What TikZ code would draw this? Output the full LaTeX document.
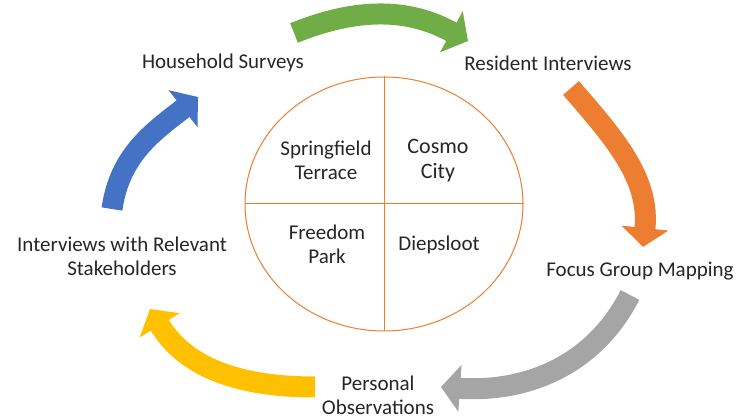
\documentclass[tikz,border=0pt]{standalone}
\usepackage{fontspec}
\setmainfont{Carlito}
\usetikzlibrary{arrows.meta,shapes.geometric}

\definecolor{cycgreen}{RGB}{112,173,71}
\definecolor{cycorange}{RGB}{237,125,49}
\definecolor{cycgray}{RGB}{165,165,165}
\definecolor{cycyellow}{RGB}{255,192,0}
\definecolor{cycblue}{RGB}{68,114,196}

\begin{document}
\begin{tikzpicture}[x=1pt, y=1pt, every text node part/.style={align=center},
    lbl/.style={font=\fontsize{21}{24}\selectfont, text=black!85, inner sep=0pt},
    cyc/.style={line width=21pt, -{Triangle[width=46pt, length=19pt]}}]
    \useasboundingbox (0,0) rectangle (740,419);

    % study areas in the middle
    \node [draw=cycorange, line width=1pt, ellipse, inner sep=0pt, minimum width=278pt, minimum height=254pt] (map) at (384,215) {};
    \draw [cycorange, line width=1pt] (map.north) -- (map.south);
    \draw [cycorange, line width=1pt] (map.west) -- (map.east);

    \node [lbl] (st) at (326,259) {Springfield\\Terrace};
    \node [lbl, font=\fontsize{22}{25}\selectfont] (cc) at (438,258) {Cosmo\\City};
    \node [lbl] (fp) at (327,175) {Freedom\\Park};
    \node [lbl] (dp) at (439,174) {Diepsloot};

    % data collection steps
    \node [lbl] (hs) at (223,356) {Household Surveys};
    \node [lbl] (ri) at (548,356) {Resident Interviews};
    \node [lbl] (fg) at (640,148) {Focus Group Mapping};
    \node [lbl] (po) at (378,24) {Personal\\Observations};
    \node [lbl] (is) at (122,163) {Interviews with Relevant\\Stakeholders};

    % cycle arrows
    \coordinate (g1) at (294,386); \coordinate (g2) at (468,378);
    \coordinate (o1) at (571,331); \coordinate (o2) at (643,172);
    \coordinate (r1) at (630,124); \coordinate (r2) at (441,32);
    \coordinate (y1) at (315,32);  \coordinate (y2) at (150,110);
    \coordinate (b1) at (112,210); \coordinate (b2) at (198,322);

    \draw [cyc, cycgreen] (g1) to[out=22, in=151] (g2);
    \draw [cyc, cycorange] (o1) to[out=-49, in=84] (o2);
    \draw [cyc, cycgray] (r1) to[out=243, in=-4] (r2);
    \draw [cyc, cycyellow] (y1) to[out=180, in=-59] (y2);
    \draw [cyc, cycblue] (b1) to[out=82, in=218] (b2);
\end{tikzpicture}
\end{document}
